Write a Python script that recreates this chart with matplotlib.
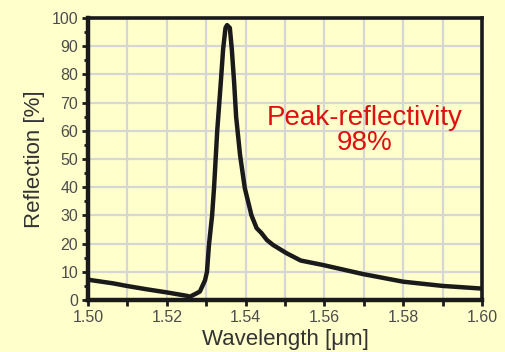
import matplotlib
matplotlib.use("Agg")
import matplotlib.pyplot as plt
import numpy as np

# wavelength [um] and reflection [%]
wavelength = [1.5000, 1.5005, 1.5064, 1.5098, 1.5149, 1.5200, 1.5250, 1.5259,
              1.5276, 1.5284, 1.5297, 1.5302, 1.5307, 1.5315, 1.5320, 1.5328,
              1.5337, 1.5343, 1.5349, 1.5353, 1.5360, 1.5365, 1.5371, 1.5376,
              1.5386, 1.5398, 1.5415, 1.5428, 1.5440, 1.5454, 1.5470, 1.5504,
              1.5540, 1.5597, 1.5698, 1.5800, 1.5900, 1.5995]
reflection = [7.6, 7.1, 5.9, 5.0, 3.8, 2.7, 1.5, 1.2, 2.4, 3.0, 7.0, 10.0,
              19.5, 30.0, 40.0, 60.0, 77.0, 89.0, 96.5, 97.5, 96.5, 89.0,
              77.0, 65.0, 51.4, 39.7, 30.0, 25.5, 23.8, 21.3, 19.5, 16.6,
              14.0, 12.4, 9.2, 6.5, 5.0, 4.1]

bg = "#FFFFCC"
fig = plt.figure(figsize=(5.05, 3.52), dpi=100, facecolor=bg)
ax = fig.add_axes([0.1743, 0.1477, 0.780, 0.801], facecolor=bg)

ax.plot(wavelength, reflection, color="#1a1a1a", lw=3.2, solid_joinstyle="round")

ax.set_xlim(1.50, 1.60)
ax.set_ylim(0, 100)
ax.set_xticks(np.arange(1.50, 1.6001, 0.01), minor=True)
ax.set_xticks([1.50, 1.52, 1.54, 1.56, 1.58, 1.60])
ax.set_xticklabels(["1.50", "1.52", "1.54", "1.56", "1.58", "1.60"])
ax.set_yticks(range(0, 101, 10))
ax.set_yticks(range(5, 100, 10), minor=True)

ax.grid(True, which="major", axis="y", color="#d6d6d6", lw=1.6)
ax.grid(True, which="both", axis="x", color="#d6d6d6", lw=1.6)
ax.set_axisbelow(True)

for side in ["left", "bottom"]:
    ax.spines[side].set_linewidth(3.2)
    ax.spines[side].set_color("#1a1a1a")
for side in ["top", "right"]:
    ax.spines[side].set_linewidth(2.6)
    ax.spines[side].set_color("#1a1a1a")

ax.tick_params(which="both", direction="out", length=4, width=2, color="#1a1a1a",
               labelsize=11.5, labelcolor="#4d4d4d", pad=3)
ax.tick_params(axis="y", which="minor", length=3)
for lab in ax.get_xticklabels() + ax.get_yticklabels():
    lab.set_family("Liberation Sans")

ax.set_xlabel("Wavelength [\u03bcm]", family="Liberation Sans", fontsize=16,
              color="#333333", labelpad=3)
ax.set_ylabel("Reflection [%]", family="Liberation Sans", fontsize=16,
              color="#333333", labelpad=5)

ax.text(1.5702, 60, "Peak-reflectivity\n98%", ha="center", va="center",
        family="Liberation Sans", fontsize=20, color="#dd1111", linespacing=0.95)

fig.savefig("out.png", dpi=100, facecolor=bg)
